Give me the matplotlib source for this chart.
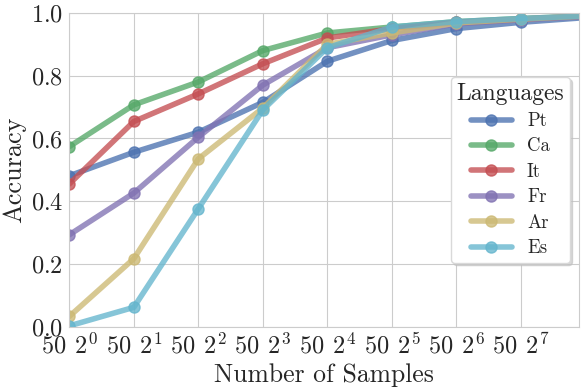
import matplotlib
matplotlib.use('Agg')
import matplotlib.pyplot as plt
import seaborn as sns
import numpy as np

sns.set_style('whitegrid')
plt.rcParams['font.family'] = 'serif'
plt.rcParams['font.serif'] = ['cmr10']
plt.rcParams['mathtext.fontset'] = 'cm'
plt.rcParams['axes.formatter.use_mathtext'] = True

steps = np.arange(9)
tick_labels = [r'$50\;\,2^{%d}$' % k for k in range(8)]

languages = ['Pt', 'Ca', 'It', 'Fr', 'Ar', 'Es']
colors = ['#4C72B0', '#55A868', '#C44E52', '#8172B2', '#CCB974', '#64B5CD']

acc_pt = [0.481, 0.556, 0.620, 0.715, 0.846, 0.912, 0.950, 0.970, 0.985]
acc_ca = [0.574, 0.707, 0.780, 0.880, 0.936, 0.955, 0.972, 0.982, 0.990]
acc_it = [0.455, 0.654, 0.742, 0.838, 0.920, 0.950, 0.970, 0.980, 0.990]
acc_fr = [0.293, 0.426, 0.604, 0.770, 0.889, 0.930, 0.965, 0.978, 0.988]
acc_ar = [0.033, 0.217, 0.535, 0.697, 0.900, 0.936, 0.968, 0.980, 0.990]
acc_es = [0.003, 0.062, 0.376, 0.691, 0.889, 0.955, 0.972, 0.982, 0.990]
series = [acc_pt, acc_ca, acc_it, acc_fr, acc_ar, acc_es]

fig, ax = plt.subplots(figsize=(5.82, 3.9), dpi=100)
fig.subplots_adjust(left=0.119, right=0.995, bottom=0.162, top=0.967)

for name, vals, c in zip(languages, series, colors):
    ax.plot(steps, vals, '-o', color=c, lw=4, ms=8, alpha=0.78, label=name)

ax.set_xlim(0, 7.9)
ax.set_ylim(0, 1)
ax.set_xticks(range(8))
ax.set_xticklabels(tick_labels)
ax.set_yticks(np.arange(0, 1.01, 0.2))
ax.tick_params(labelsize=17.5, pad=1, labelcolor='0.15')
ax.set_xlabel('Number of Samples', fontsize=18.5, labelpad=3, color='0.15')
ax.set_ylabel('Accuracy', fontsize=19, labelpad=3, color='0.15')

leg = ax.legend(title='Languages', loc='center right', fontsize=13.5,
                title_fontsize=17, frameon=True, fancybox=True, framealpha=1,
                shadow={'color': '0.75', 'alpha': 0.6}, handlelength=2.2,
                borderpad=0.3, labelspacing=0.4)
leg.get_frame().set_edgecolor('0.85')

plt.savefig('out.png', dpi=100)
